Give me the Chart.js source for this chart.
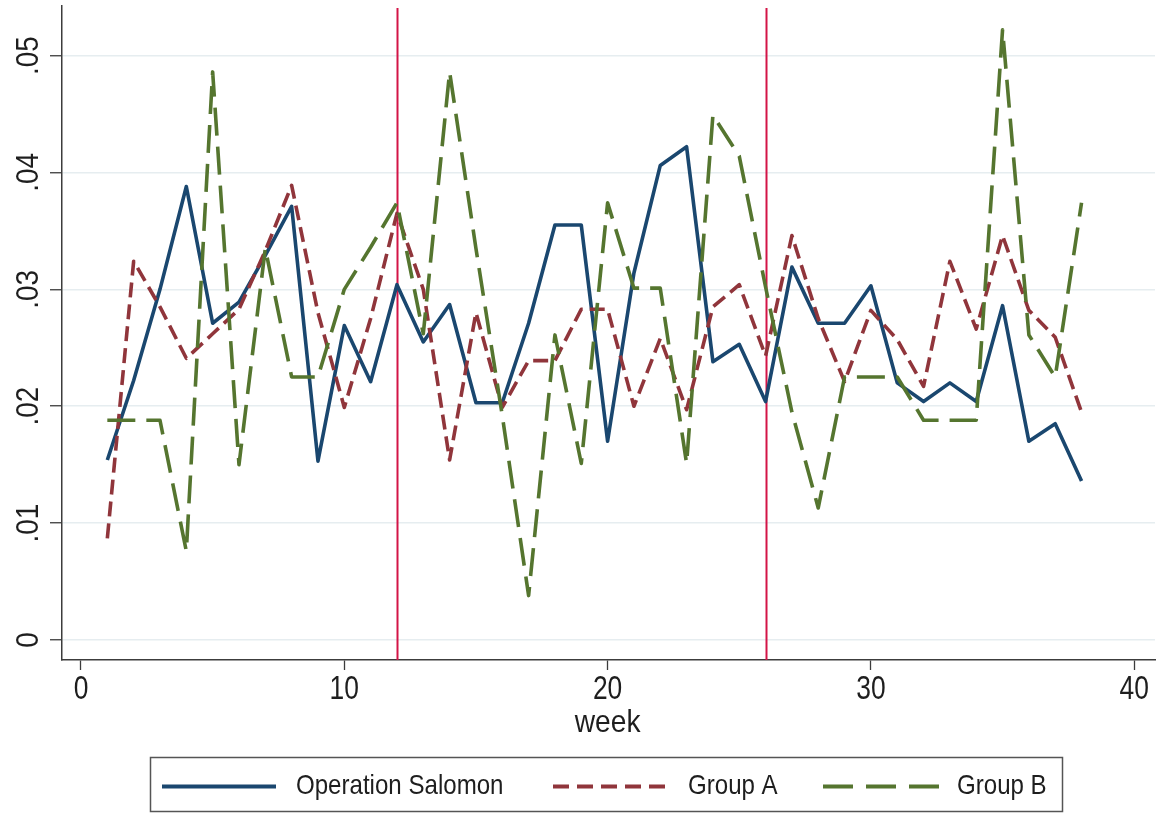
<!DOCTYPE html>
<html>
<head>
<meta charset="utf-8">
<script src="https://cdn.jsdelivr.net/npm/chart.js@4.4.1/dist/chart.umd.min.js"></script>
<style>
  html, body { margin: 0; padding: 0; background: #ffffff; }
  #wrap { width: 1162px; height: 817px; position: relative; }
</style>
</head>
<body>
<div id="wrap"><canvas id="c" width="1162" height="817"></canvas></div>
<script>
// Weekly shares, weeks 1..38
const weeks = [1,2,3,4,5,6,7,8,9,10,11,12,13,14,15,16,17,18,19,20,21,22,23,24,25,26,27,28,29,30,31,32,33,34,35,36,37,38];

const salomon = [0.0154,0.0222,0.0300,0.0388,0.0271,0.0289,0.0329,0.0371,0.0153,0.0269,
                 0.0221,0.0304,0.0255,0.0287,0.0203,0.0203,0.0271,0.0355,0.0355,0.0170,
                 0.0314,0.0406,0.0422,0.0238,0.0253,0.0204,0.0319,0.0271,0.0271,0.0303,
                 0.0220,0.0204,0.0220,0.0204,0.0286,0.0170,0.0185,0.0136];

const groupA = [0.0087,0.0324,0.0285,0.0241,0.0262,0.0283,0.0333,0.0389,0.0280,0.0199,
                0.0275,0.0365,0.0300,0.0154,0.0280,0.0199,0.0239,0.0239,0.0283,0.0283,
                0.0200,0.0258,0.0197,0.0285,0.0304,0.0243,0.0346,0.0275,0.0221,0.0282,
                0.0257,0.0217,0.0324,0.0266,0.0346,0.0282,0.0259,0.0195];

const groupB = [0.0188,0.0188,0.0188,0.0076,0.0486,0.0150,0.0335,0.0225,0.0225,0.0300,
                0.0336,0.0374,0.0262,0.0486,0.0335,0.0192,0.0038,0.0261,0.0151,0.0374,
                0.0301,0.0301,0.0151,0.0449,0.0414,0.0302,0.0195,0.0113,0.0225,0.0225,
                0.0225,0.0188,0.0188,0.0188,0.0522,0.0261,0.0225,0.0374];

const seriesNames = ['Operation Salomon', 'Group A', 'Group B'];
const xTickValues = [0, 10, 20, 30, 40];
const xTickLabels = ['0', '10', '20', '30', '40'];
const yTickValues = [0, 0.01, 0.02, 0.03, 0.04, 0.05];
const yTickLabels = ['0', '.01', '.02', '.03', '.04', '.05'];
const eventWeeks = [12, 26];
const xTitle = 'week';

const FONT = '"Liberation Sans", Arial, Helvetica, sans-serif';
const TEXT = '#1e1e1e';
const AXIS = '#3c3c3c';

function toPoints(values) {
  return weeks.map((w, i) => ({ x: w, y: values[i] }));
}

function drawText(ctx, s, x, y, size, o) {
  o = o || {};
  ctx.save();
  ctx.translate(x, y);
  if (o.rot) ctx.rotate(o.rot);
  ctx.scale(o.sx || 1, 1);
  ctx.font = size + 'px ' + FONT;
  ctx.fillStyle = TEXT;
  ctx.textAlign = o.align || 'center';
  ctx.textBaseline = 'middle';
  ctx.fillText(s, 0, 0);
  ctx.restore();
}

// Vertical event markers, axis labels and the boxed legend
const decorations = {
  id: 'decorations',
  beforeDatasetsDraw(chart) {
    const { ctx, chartArea, scales } = chart;
    ctx.save();
    ctx.strokeStyle = '#d31447';
    ctx.lineWidth = 2;
    eventWeeks.forEach(w => {
      const px = Math.round(scales.x.getPixelForValue(w)) + 0.5;
      ctx.beginPath();
      ctx.moveTo(px, chartArea.top + 2);
      ctx.lineTo(px, chartArea.bottom);
      ctx.stroke();
    });
    ctx.restore();
  },
  afterDraw(chart) {
    const { ctx, scales } = chart;
    // y tick labels, rotated
    yTickValues.forEach((v, i) => {
      drawText(ctx, yTickLabels[i], 29, scales.y.getPixelForValue(v), 31, { rot: -Math.PI / 2, sx: 0.9 });
    });
    // x tick labels
    xTickValues.forEach((v, i) => {
      drawText(ctx, xTickLabels[i], scales.x.getPixelForValue(v), 690, 33, { sx: 0.8 });
    });
    // x axis title
    drawText(ctx, xTitle, scales.x.getPixelForValue(20), 723, 32, { sx: 0.88 });

    // legend box
    ctx.save();
    ctx.strokeStyle = '#555555';
    ctx.lineWidth = 1.5;
    ctx.strokeRect(150.5, 757.5, 912, 54);
    ctx.restore();

    const items = [
      { x0: 162, x1: 276, tx: 296 },
      { x0: 553, x1: 670, tx: 688 },
      { x0: 823, x1: 939, tx: 957 }
    ];
    const legendDash = [[], [16, 8], [30, 13]];
    const ly = 786.5;
    chart.data.datasets.forEach((ds, i) => {
      const it = items[i];
      ctx.save();
      ctx.strokeStyle = ds.borderColor;
      ctx.lineWidth = 4;
      ctx.lineCap = 'butt';
      ctx.setLineDash(legendDash[i]);
      ctx.beginPath();
      ctx.moveTo(it.x0, ly);
      ctx.lineTo(it.x1, ly);
      ctx.stroke();
      ctx.restore();
      drawText(ctx, ds.label, it.tx, ly, 28, { align: 'left', sx: 0.86 });
    });
  }
};

new Chart(document.getElementById('c'), {
  type: 'line',
  data: {
    datasets: [
      {
        label: seriesNames[0],
        data: toPoints(salomon),
        borderColor: '#1a476f',
        borderWidth: 3.6,
        order: 3
      },
      {
        label: seriesNames[1],
        data: toPoints(groupA),
        borderColor: '#90353b',
        borderWidth: 3.6,
        borderDash: [15, 7],
        order: 2
      },
      {
        label: seriesNames[2],
        data: toPoints(groupB),
        borderColor: '#55752f',
        borderWidth: 3.6,
        borderDash: [28, 11],
        order: 1
      }
    ]
  },
  options: {
    responsive: false,
    animation: false,
    devicePixelRatio: 1,
    elements: {
      point: { radius: 0, hoverRadius: 0 },
      line: { tension: 0, fill: false, borderJoinStyle: 'round', borderCapStyle: 'butt' }
    },
    layout: { padding: { top: 6, right: 7, left: 0, bottom: 0 } },
    plugins: {
      legend: { display: false },
      tooltip: { enabled: false },
      title: { display: false }
    },
    scales: {
      x: {
        type: 'linear',
        min: -0.7216,
        max: 40.79,
        afterBuildTicks: s => { s.ticks = xTickValues.map(v => ({ value: v })); },
        afterFit: s => { s.height = 157; },
        ticks: { display: false },
        grid: {
          display: true,
          drawOnChartArea: false,
          drawTicks: true,
          tickLength: 10,
          tickWidth: 1.3,
          tickColor: AXIS
        },
        border: { display: true, color: AXIS, width: 1.5 }
      },
      y: {
        type: 'linear',
        min: -0.001711,
        max: 0.05424,
        afterBuildTicks: s => { s.ticks = yTickValues.map(v => ({ value: v })); },
        afterFit: s => { s.width = 62; },
        ticks: { display: false },
        grid: {
          display: true,
          drawOnChartArea: true,
          drawTicks: true,
          tickLength: 12,
          color: '#e6edf0',
          lineWidth: 1.5,
          tickColor: AXIS,
          tickWidth: 1.3
        },
        border: { display: true, color: AXIS, width: 1.5 }
      }
    }
  },
  plugins: [decorations]
});
</script>
</body>
</html>
